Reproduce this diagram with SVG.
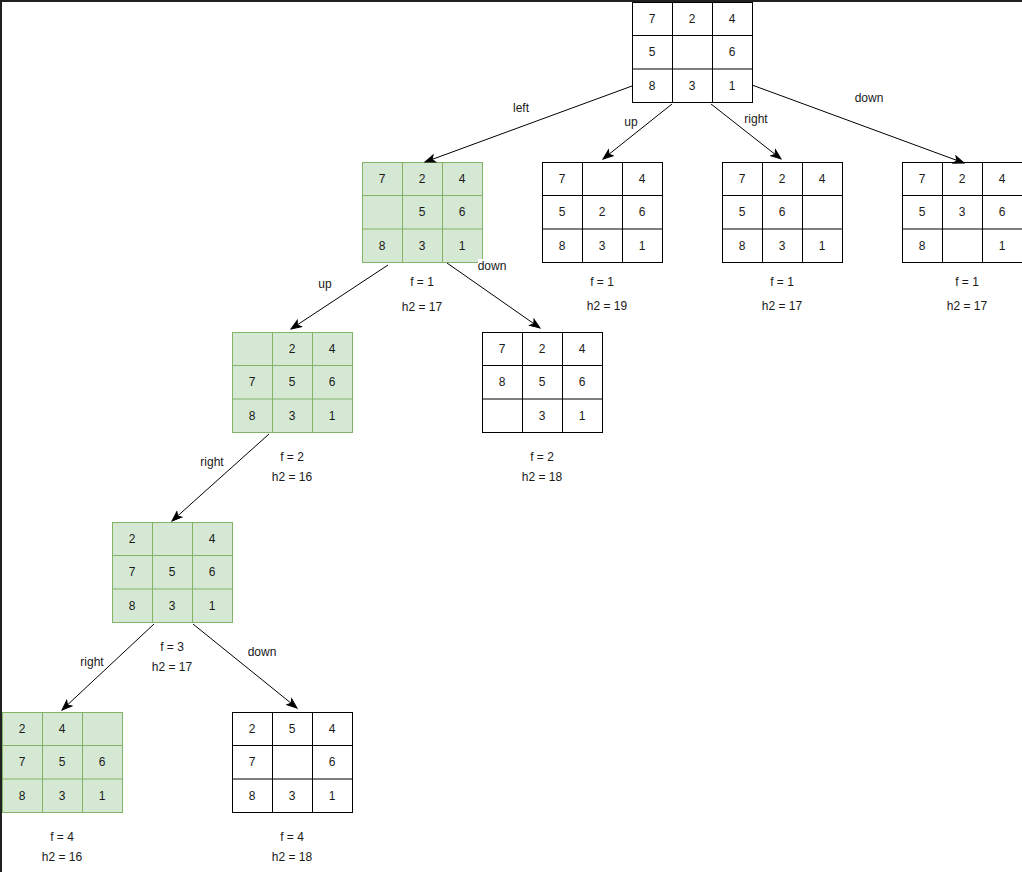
<svg xmlns="http://www.w3.org/2000/svg" width="1022" height="872" viewBox="0 0 1022 872">
  <style>
    text { font-family: "Liberation Sans", Arial, sans-serif; font-size: 12px; fill: #1a1a1a; text-anchor: middle; }
    .plain rect, .plain line { stroke: #000; stroke-width: 1; }
    .plain rect { fill: #fff; }
    .open rect, .open line { stroke: #82b366; stroke-width: 1; }
    .open rect { fill: #d5e8d4; }
    .edge { stroke: #000; stroke-width: 1; fill: none; marker-end: url(#arrow); }
    .lbl-bg { fill: #fff; }
  </style>
  <defs>
    <marker id="arrow" viewBox="-1 -5 12 10" refX="10" refY="0" markerWidth="12" markerHeight="10" markerUnits="userSpaceOnUse" orient="auto">
      <path d="M0,-3.8 L10,0 L0,3.8 L2.5,0 Z" fill="#000" stroke="#000" stroke-width="1"/>
    </marker>
  </defs>

  <rect width="1022" height="872" fill="#fff"/>
  <!-- frame edges -->
  <rect x="0" y="0" width="1022" height="2" fill="#202020"/>
  <rect x="0" y="0" width="2" height="872" fill="#202020"/>

  <!-- start state -->
  <g id="root" class="plain">
    <rect x="632.5" y="2.5" width="120" height="100"/>
    <line x1="672.5" y1="2.5" x2="672.5" y2="102.5"/>
    <line x1="712.5" y1="2.5" x2="712.5" y2="102.5"/>
    <line x1="632.5" y1="35.5" x2="752.5" y2="35.5"/>
    <line x1="632.5" y1="69" x2="752.5" y2="69"/>
    <text x="652" y="23">7</text><text x="692" y="23">2</text><text x="732" y="23">4</text>
    <text x="652" y="56">5</text><text x="732" y="56">6</text>
    <text x="652" y="90">8</text><text x="692" y="90">3</text><text x="732" y="90">1</text>
  </g>

  <!-- level 1: after left -->
  <g id="n-left" class="open">
    <rect x="362.5" y="162.5" width="120" height="100"/>
    <line x1="402.5" y1="162.5" x2="402.5" y2="262.5"/>
    <line x1="442.5" y1="162.5" x2="442.5" y2="262.5"/>
    <line x1="362.5" y1="195.5" x2="482.5" y2="195.5"/>
    <line x1="362.5" y1="229" x2="482.5" y2="229"/>
    <text x="382" y="183">7</text><text x="422" y="183">2</text><text x="462" y="183">4</text>
    <text x="422" y="216">5</text><text x="462" y="216">6</text>
    <text x="382" y="250">8</text><text x="422" y="250">3</text><text x="462" y="250">1</text>
    <text x="422" y="286">f = 1</text>
    <text x="422" y="311">h2 = 17</text>
  </g>

  <!-- level 1: after up -->
  <g id="n-up" class="plain">
    <rect x="542.5" y="162.5" width="120" height="100"/>
    <line x1="582.5" y1="162.5" x2="582.5" y2="262.5"/>
    <line x1="622.5" y1="162.5" x2="622.5" y2="262.5"/>
    <line x1="542.5" y1="195.5" x2="662.5" y2="195.5"/>
    <line x1="542.5" y1="229" x2="662.5" y2="229"/>
    <text x="562" y="183">7</text><text x="642" y="183">4</text>
    <text x="562" y="216">5</text><text x="602" y="216">2</text><text x="642" y="216">6</text>
    <text x="562" y="250">8</text><text x="602" y="250">3</text><text x="642" y="250">1</text>
    <text x="602" y="286">f = 1</text>
    <text x="607" y="310">h2 = 19</text>
  </g>

  <!-- level 1: after right -->
  <g id="n-right" class="plain">
    <rect x="722.5" y="162.5" width="120" height="100"/>
    <line x1="762.5" y1="162.5" x2="762.5" y2="262.5"/>
    <line x1="802.5" y1="162.5" x2="802.5" y2="262.5"/>
    <line x1="722.5" y1="195.5" x2="842.5" y2="195.5"/>
    <line x1="722.5" y1="229" x2="842.5" y2="229"/>
    <text x="742" y="183">7</text><text x="782" y="183">2</text><text x="822" y="183">4</text>
    <text x="742" y="216">5</text><text x="782" y="216">6</text>
    <text x="742" y="250">8</text><text x="782" y="250">3</text><text x="822" y="250">1</text>
    <text x="782" y="286">f = 1</text>
    <text x="782" y="310">h2 = 17</text>
  </g>

  <!-- level 1: after down -->
  <g id="n-down" class="plain">
    <rect x="902.5" y="162.5" width="120" height="100"/>
    <line x1="942.5" y1="162.5" x2="942.5" y2="262.5"/>
    <line x1="982.5" y1="162.5" x2="982.5" y2="262.5"/>
    <line x1="902.5" y1="195.5" x2="1022.5" y2="195.5"/>
    <line x1="902.5" y1="229" x2="1022.5" y2="229"/>
    <text x="922" y="183">7</text><text x="962" y="183">2</text><text x="1002" y="183">4</text>
    <text x="922" y="216">5</text><text x="962" y="216">3</text><text x="1002" y="216">6</text>
    <text x="922" y="250">8</text><text x="1002" y="250">1</text>
    <text x="967" y="286">f = 1</text>
    <text x="967" y="310">h2 = 17</text>
  </g>

  <!-- level 2: left, up -->
  <g id="n-left-up" class="open">
    <rect x="232.5" y="332.5" width="120" height="100"/>
    <line x1="272.5" y1="332.5" x2="272.5" y2="432.5"/>
    <line x1="312.5" y1="332.5" x2="312.5" y2="432.5"/>
    <line x1="232.5" y1="365.5" x2="352.5" y2="365.5"/>
    <line x1="232.5" y1="399" x2="352.5" y2="399"/>
    <text x="292" y="353">2</text><text x="332" y="353">4</text>
    <text x="252" y="386">7</text><text x="292" y="386">5</text><text x="332" y="386">6</text>
    <text x="252" y="420">8</text><text x="292" y="420">3</text><text x="332" y="420">1</text>
    <text x="292" y="461">f = 2</text>
    <text x="292" y="481">h2 = 16</text>
  </g>

  <!-- level 2: left, down -->
  <g id="n-left-down" class="plain">
    <rect x="482.5" y="332.5" width="120" height="100"/>
    <line x1="522.5" y1="332.5" x2="522.5" y2="432.5"/>
    <line x1="562.5" y1="332.5" x2="562.5" y2="432.5"/>
    <line x1="482.5" y1="365.5" x2="602.5" y2="365.5"/>
    <line x1="482.5" y1="399" x2="602.5" y2="399"/>
    <text x="502" y="353">7</text><text x="542" y="353">2</text><text x="582" y="353">4</text>
    <text x="502" y="386">8</text><text x="542" y="386">5</text><text x="582" y="386">6</text>
    <text x="542" y="420">3</text><text x="582" y="420">1</text>
    <text x="542" y="461">f = 2</text>
    <text x="542" y="481">h2 = 18</text>
  </g>

  <!-- level 3: left, up, right -->
  <g id="n-l3" class="open">
    <rect x="112.5" y="522.5" width="120" height="100"/>
    <line x1="152.5" y1="522.5" x2="152.5" y2="622.5"/>
    <line x1="192.5" y1="522.5" x2="192.5" y2="622.5"/>
    <line x1="112.5" y1="555.5" x2="232.5" y2="555.5"/>
    <line x1="112.5" y1="589" x2="232.5" y2="589"/>
    <text x="132" y="543">2</text><text x="212" y="543">4</text>
    <text x="132" y="576">7</text><text x="172" y="576">5</text><text x="212" y="576">6</text>
    <text x="132" y="610">8</text><text x="172" y="610">3</text><text x="212" y="610">1</text>
    <text x="172" y="651">f = 3</text>
    <text x="172" y="671">h2 = 17</text>
  </g>

  <!-- level 4: ... right -->
  <g id="n-l4-right" class="open">
    <rect x="2.5" y="712.5" width="120" height="100"/>
    <line x1="42.5" y1="712.5" x2="42.5" y2="812.5"/>
    <line x1="82.5" y1="712.5" x2="82.5" y2="812.5"/>
    <line x1="2.5" y1="745.5" x2="122.5" y2="745.5"/>
    <line x1="2.5" y1="779" x2="122.5" y2="779"/>
    <text x="22" y="733">2</text><text x="62" y="733">4</text>
    <text x="22" y="766">7</text><text x="62" y="766">5</text><text x="102" y="766">6</text>
    <text x="22" y="800">8</text><text x="62" y="800">3</text><text x="102" y="800">1</text>
    <text x="62" y="841">f = 4</text>
    <text x="62" y="861">h2 = 16</text>
  </g>

  <!-- level 4: ... down -->
  <g id="n-l4-down" class="plain">
    <rect x="232.5" y="712.5" width="120" height="100"/>
    <line x1="272.5" y1="712.5" x2="272.5" y2="812.5"/>
    <line x1="312.5" y1="712.5" x2="312.5" y2="812.5"/>
    <line x1="232.5" y1="745.5" x2="352.5" y2="745.5"/>
    <line x1="232.5" y1="779" x2="352.5" y2="779"/>
    <text x="252" y="733">2</text><text x="292" y="733">5</text><text x="332" y="733">4</text>
    <text x="252" y="766">7</text><text x="332" y="766">6</text>
    <text x="252" y="800">8</text><text x="292" y="800">3</text><text x="332" y="800">1</text>
    <text x="292" y="841">f = 4</text>
    <text x="292" y="861">h2 = 18</text>
  </g>

  <!-- moves -->
  <g id="connectors">
    <line class="edge" x1="632" y1="86" x2="425" y2="162"/>
    <text x="521" y="112">left</text>
    <line class="edge" x1="672" y1="104" x2="603" y2="159"/>
    <text x="631" y="126">up</text>
    <line class="edge" x1="711" y1="104" x2="781" y2="159"/>
    <text x="756" y="123">right</text>
    <line class="edge" x1="752" y1="85" x2="964" y2="163"/>
    <text x="869" y="102">down</text>

    <line class="edge" x1="388" y1="265" x2="291" y2="329"/>
    <text x="325" y="288">up</text>
    <line class="edge" x1="447" y1="263" x2="540" y2="328"/>
    <rect class="lbl-bg" x="478" y="259" width="29" height="14"/>
    <text x="492" y="270">down</text>

    <line class="edge" x1="269" y1="434" x2="172" y2="521"/>
    <text x="212" y="466">right</text>

    <line class="edge" x1="154" y1="624" x2="62" y2="710"/>
    <text x="92" y="666">right</text>
    <line class="edge" x1="193" y1="624" x2="297" y2="708"/>
    <text x="262" y="656">down</text>
  </g>
</svg>
